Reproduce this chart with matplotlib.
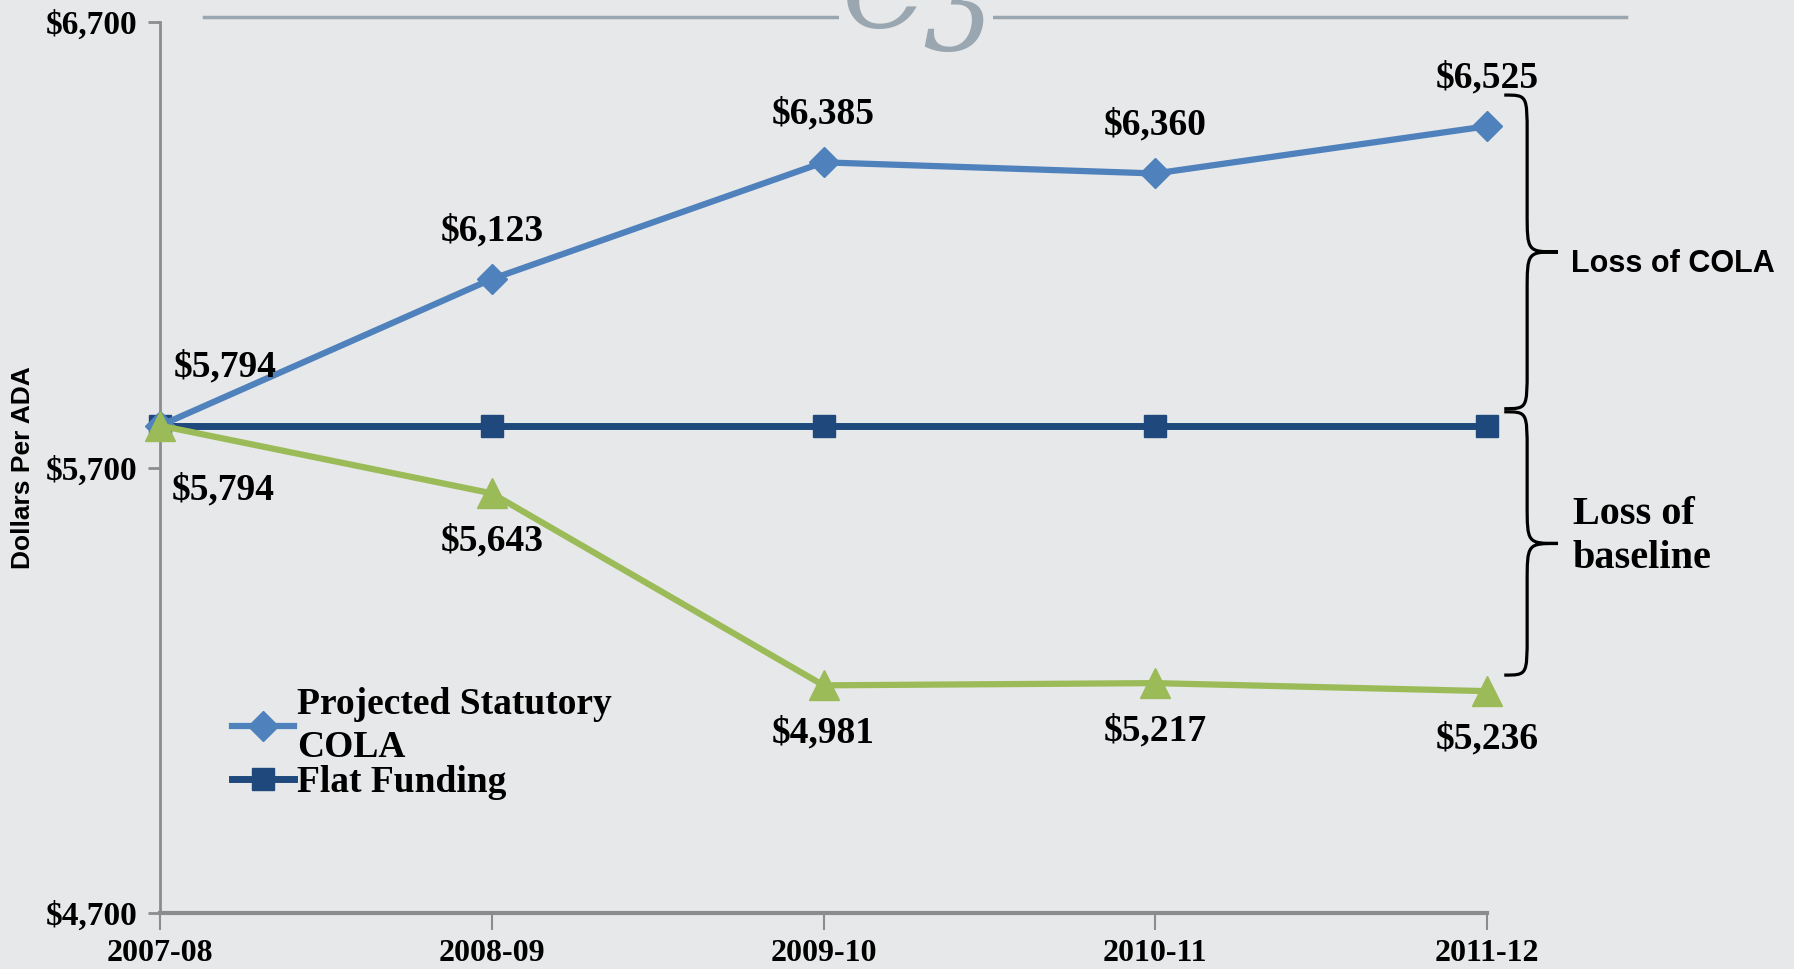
import matplotlib
matplotlib.use("Agg")
import matplotlib.pyplot as plt
from matplotlib.path import Path
from matplotlib.patches import PathPatch
from matplotlib.lines import Line2D

# ---- data ----
years = ["2007-08", "2008-09", "2009-10", "2010-11", "2011-12"]
cola = [5794, 6123, 6385, 6360, 6466]
flat = [5794, 5794, 5794, 5794, 5794]
baseline = [5794, 5642, 5211, 5216, 5198]
cola_labels = ["$5,794", "$6,123", "$6,385", "$6,360", "$6,525"]
base_labels = ["$5,794", "$5,643", "$4,981", "$5,217", "$5,236"]
yticks = [4700, 5700, 6700]
ytick_labels = ["$4,700", "$5,700", "$6,700"]

BG = "#e7e8e9"
BLUE = "#4f81bd"
NAVY = "#1f497d"
GREEN = "#9bbb59"
SERIF = ["Liberation Serif", "DejaVu Serif"]
SANS = ["Liberation Sans", "DejaVu Sans"]

fig = plt.figure(figsize=(17.94, 9.69), dpi=100, facecolor=BG)
ax = fig.add_axes([160/1794, 1-913/969, (1487-160)/1794, (913-22)/969])
ax.set_facecolor(BG)

x = list(range(len(years)))
l1, = ax.plot(x, cola, color=BLUE, lw=4.5, marker="D", ms=15, clip_on=False, zorder=4)
l2, = ax.plot(x, flat, color=NAVY, lw=5, marker="s", ms=16, clip_on=False, zorder=3)
l3, = ax.plot(x, baseline, color=GREEN, lw=4.5, marker="^", ms=22, clip_on=False, zorder=5)

ax.set_xlim(0, 4)
ax.set_ylim(4700, 6700)
ax.set_xticks(x)
ax.set_xticklabels(years, fontdict=dict(family=SERIF, weight="bold", size=23))
ax.set_yticks(yticks)
ax.set_yticklabels(ytick_labels, fontdict=dict(family=SERIF, weight="bold", size=24))
for s in ["top", "right"]:
    ax.spines[s].set_visible(False)
ax.spines["left"].set_color("#8c8c8c")
ax.spines["left"].set_linewidth(2)
ax.spines["bottom"].set_color("#8c8c8c")
ax.spines["bottom"].set_linewidth(3)
ax.tick_params(axis="y", direction="out", length=9, width=2, color="#8c8c8c", pad=7)
ax.tick_params(axis="x", direction="out", length=12, width=1.5, color="#8c8c8c", pad=7)

ax.set_ylabel("Dollars Per ADA", fontfamily=SANS, fontweight="bold", fontsize=19)
ax.yaxis.set_label_coords(-0.094, 0.5)

# data labels
lab_kw = dict(textcoords="offset pixels", ha="center", va="center",
              fontfamily=SERIF, fontweight="bold", fontsize=27, annotation_clip=False, zorder=6)
for i, (v, s) in enumerate(zip(cola, cola_labels)):
    off = (65, 59) if i == 0 else (0, 48)
    ax.annotate(s, (i, v), xytext=off, **lab_kw)
for i, (v, s) in enumerate(zip(baseline, base_labels)):
    off = (63, -64) if i == 0 else (0, -48)
    ax.annotate(s, (i, v), xytext=off, **lab_kw)

# legend
leg = ax.legend([l1, l2], ["Projected Statutory\nCOLA", "Flat Funding"],
                loc="upper left", bbox_to_anchor=(232/1794, 1-687/969),
                bbox_transform=fig.transFigure, frameon=False,
                prop=dict(family=SERIF, weight="bold", size=27),
                handlelength=1.65, handletextpad=0.08, labelspacing=0.0,
                borderaxespad=0, borderpad=0)
for t in leg.get_texts():
    t.set_linespacing(1.3)

# braces
def brace(ytop, ybot, xa=4.052, xb=4.121, xt=4.214, r=90):
    ym = (ytop + ybot) / 2.0
    verts = [(xa, ytop), (xb, ytop), (xb, ytop), (xb, ytop - r),
             (xb, ym + r),
             (xb, ym), (xb, ym), (xt, ym),
             (xb, ym), (xb, ym), (xb, ym - r),
             (xb, ybot + r),
             (xb, ybot), (xb, ybot), (xa, ybot)]
    codes = [Path.MOVETO, Path.CURVE4, Path.CURVE4, Path.CURVE4,
             Path.LINETO,
             Path.CURVE4, Path.CURVE4, Path.CURVE4,
             Path.CURVE4, Path.CURVE4, Path.CURVE4,
             Path.LINETO,
             Path.CURVE4, Path.CURVE4, Path.CURVE4]
    p = PathPatch(Path(verts, codes), fill=False, edgecolor="black", lw=2.3,
                  clip_on=False, zorder=6)
    ax.add_patch(p)

brace(6536, 5832)
brace(5825, 5234)
ax.text(4.252, 6156, "Loss of COLA", fontfamily=SANS, fontweight="bold", fontsize=22,
        ha="left", va="center", clip_on=False)
ax.text(4.258, 5545, "Loss of\nbaseline", fontfamily=SERIF, fontweight="bold", fontsize=29,
        ha="left", va="center", linespacing=1.25, clip_on=False)

# decorative top rule with ornament
fig.add_artist(Line2D([204/1794, 1626/1794], [1-17/969, 1-17/969], color="#9aa7b0", lw=2.5))
fig.text(916/1794, 1-52/969, "Cʒ", fontfamily=["DejaVu Serif"], style="italic", fontsize=80,
         color="#9aa7b0", ha="center", va="bottom",
         bbox=dict(facecolor=BG, edgecolor="none", pad=2))

fig.savefig("out.png", dpi=100, facecolor=BG)
